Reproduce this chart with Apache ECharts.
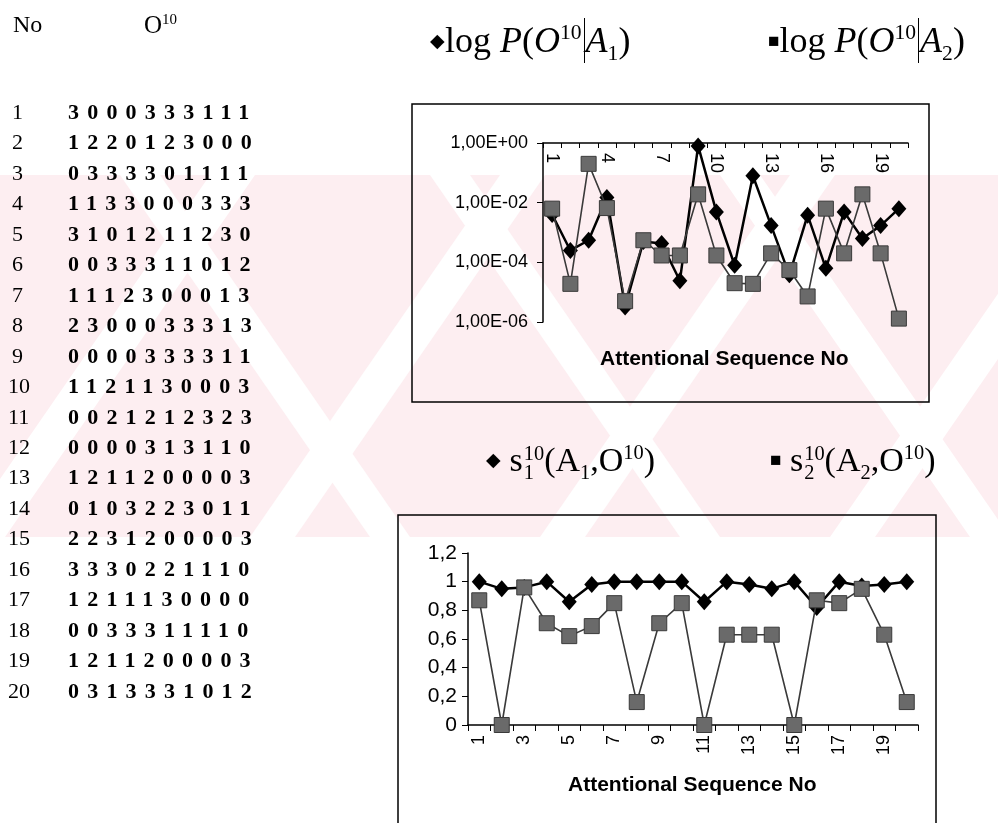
<!DOCTYPE html>
<html><head><meta charset="utf-8">
<script src="https://cdn.jsdelivr.net/npm/echarts@6/dist/echarts.min.js"></script>
<style>
html,body{margin:0;padding:0;background:#fff;width:998px;height:823px;overflow:hidden;}
#chart{position:absolute;left:0;top:0;width:998px;height:823px;}
.t{position:absolute;font-family:"Liberation Serif","Times New Roman",serif;color:#000;white-space:nowrap;line-height:1;}
.seq{font-weight:bold;letter-spacing:8.2px;}
sup,sub{font-size:0.6em;line-height:0;}
.bar{display:inline-block;border-left:1.6px solid #000;height:1.25em;vertical-align:-0.3em;margin:0 1px 0 2px;}
.stack{display:inline-block;vertical-align:middle;line-height:0.95;font-size:0.6em;text-align:left;margin-left:1px;}
</style></head><body>
<div id="chart"></div>
<div id="overlay"></div>
<script>
// ---- data ----
const categories = ['1','2','3','4','5','6','7','8','9','10','11','12','13','14','15','16','17','18','19','20'];
const logP_A1 = [4.0e-3, 2.5e-4, 5.5e-4, 1.5e-2, 3.2e-6, 5.0e-4, 4.3e-4, 2.4e-5, 0.8, 4.9e-3, 8.0e-5, 8.0e-2, 1.7e-3, 3.8e-5, 3.8e-3, 6.3e-5, 4.9e-3, 6.3e-4, 1.7e-3, 6.3e-3];
const logP_A2 = [6.3e-3, 1.9e-5, 0.2, 6.6e-3, 5.0e-6, 5.5e-4, 1.7e-4, 1.7e-4, 1.9e-2, 1.7e-4, 2.0e-5, 1.9e-5, 2.0e-4, 5.5e-5, 7.2e-6, 6.3e-3, 2.0e-4, 1.9e-2, 2.0e-4, 1.3e-6];
const s1_A1 = [1.0, 0.95, 0.96, 1.0, 0.86, 0.98, 1.0, 1.0, 1.0, 1.0, 0.86, 1.0, 0.98, 0.95, 1.0, 0.82, 1.0, 0.97, 0.98, 1.0];
const s2_A2 = [0.87, 0.0, 0.96, 0.71, 0.62, 0.69, 0.85, 0.16, 0.71, 0.85, 0.0, 0.63, 0.63, 0.63, 0.0, 0.87, 0.85, 0.95, 0.63, 0.16];
const rowNumbers = categories;
const sequences = ['3000333111','1220123000','0333301111','1133000333','3101211230','0033311012','1112300013','2300033313','0000333311','1121130003','0021212323','0000313110','1211200003','0103223011','2231200003','3330221110','1211130000','0033311110','1211200003','0313331012'];
const xTitle = 'Attentional Sequence No';

// ---- text overlay (table + legends) ----
const ov = document.getElementById('overlay');
let html = '';
html += '<div class="t" style="left:13px;top:12px;font-size:24px">No</div>';
html += '<div class="t" style="left:144px;top:12px;font-size:25px">O<sup>10</sup></div>';
const row0 = 112, rowStep = 30.45;
rowNumbers.forEach((n, i) => {
  const y = row0 + i * rowStep - 11;
  html += `<div class="t" style="left:${n.length > 1 ? 8 : 12}px;top:${y}px;font-size:22px">${n}</div>`;
  html += `<div class="t seq" style="left:68px;top:${y}px;font-size:22px">${sequences[i]}</div>`;
});
// legend 1
html += '<div class="t" style="left:430px;top:18px;font-size:36px"><span style="font-size:19px;vertical-align:5px">&#9670;</span>log <i>P</i>(<i>O</i><sup>10</sup><span class="bar"></span><i>A</i><sub>1</sub>)</div>';
html += '<div class="t" style="left:768px;top:18px;font-size:36px"><span style="font-size:19px;vertical-align:5px">&#9632;</span>log <i>P</i>(<i>O</i><sup>10</sup><span class="bar"></span><i>A</i><sub>2</sub>)</div>';
// legend 2
html += '<div class="t" style="left:486px;top:443px;font-size:34px"><span style="font-size:19px;vertical-align:5px">&#9670;</span> s<span class="stack">10<br>1</span>(A<sub>1</sub>,O<sup>10</sup>)</div>';
html += '<div class="t" style="left:770px;top:443px;font-size:34px"><span style="font-size:19px;vertical-align:5px">&#9632;</span> s<span class="stack">10<br>2</span>(A<sub>2</sub>,O<sup>10</sup>)</div>';
ov.innerHTML = html;

// ---- chart ----
const chart = echarts.init(document.getElementById('chart'), null, {renderer: 'canvas', width: 998, height: 823});
const fmtE = v => { const e = Math.round(Math.log10(v)); return '1,00E' + (e >= 0 ? '+' : '-') + String(Math.abs(e)).padStart(2, '0'); };
const fmtC = v => String(+v.toFixed(1)).replace('.', ',');
const AX = {fontFamily: '"Liberation Sans", Arial, sans-serif', color: '#000'};
const pink = '#fdeef1';
const wm = [];
wm.push({type: 'rect', z: -10, shape: {x: 0, y: 175, width: 998, height: 362}, style: {fill: pink}});
[-40, 250, 540, 830].forEach(x => wm.push({type: 'polygon', z: -9, shape: {points: [[x, 537], [x + 45, 537], [x + 295, 175], [x + 250, 175]]}, style: {fill: '#fff'}}));
[120, 430, 720].forEach(x => wm.push({type: 'polygon', z: -9, shape: {points: [[x, 175], [x + 40, 175], [x + 290, 537], [x + 250, 537]]}, style: {fill: '#fff'}}));

const symA = {symbol: 'diamond', symbolSize: [15, 17], showAllSymbol: true, lineStyle: {color: '#000', width: 2.5}, itemStyle: {color: '#000'}, z: 3};
const symB = {symbol: 'rect', symbolSize: 15, showAllSymbol: true, lineStyle: {color: '#3a3a3a', width: 1.6}, itemStyle: {color: '#6a6a6a', borderColor: '#3a3a3a', borderWidth: 1}, z: 4};

const option = {
  animation: false,
  backgroundColor: '#fff',
  graphic: wm.concat([
    {type: 'rect', z: 1, shape: {x: 412, y: 104, width: 517, height: 298}, style: {fill: 'none', stroke: '#000', lineWidth: 1.5}},
    {type: 'rect', z: 1, shape: {x: 398, y: 515, width: 538, height: 330}, style: {fill: 'none', stroke: '#000', lineWidth: 1.5}},
    {type: 'text', z: 3, left: 600, top: 349, style: {text: xTitle, font: 'bold 21px "Liberation Sans", Arial, sans-serif', fill: '#000'}},
    {type: 'text', z: 3, left: 568, top: 775, style: {text: xTitle, font: 'bold 21px "Liberation Sans", Arial, sans-serif', fill: '#000'}}
  ]),
  grid: [
    {left: 543, top: 143, width: 365, height: 179, containLabel: false},
    {left: 468, top: 553, width: 450, height: 172, containLabel: false}
  ],
  xAxis: [
    {gridIndex: 0, type: 'category', data: categories, position: 'top', boundaryGap: true,
     axisLine: {show: true, onZero: false, lineStyle: {color: '#000', width: 1.5}},
     axisTick: {show: true, inside: true, length: 5, interval: 0, lineStyle: {color: '#000'}},
     axisLabel: Object.assign({inside: true, rotate: 90, interval: 2, fontSize: 18, margin: 10}, AX),
     splitLine: {show: false}},
    {gridIndex: 1, type: 'category', data: categories, position: 'bottom', boundaryGap: true,
     axisLine: {show: true, onZero: false, lineStyle: {color: '#000', width: 1.5}},
     axisTick: {show: true, length: 6, interval: 0, lineStyle: {color: '#000'}},
     axisLabel: Object.assign({rotate: 90, interval: 1, fontSize: 18, margin: 10}, AX),
     splitLine: {show: false}}
  ],
  yAxis: [
    {gridIndex: 0, type: 'log', logBase: 10, min: 1e-6, max: 1, interval: 2,
     axisLine: {show: true, lineStyle: {color: '#000', width: 1.5}},
     axisTick: {show: true, length: 6, lineStyle: {color: '#000'}},
     axisLabel: Object.assign({formatter: fmtE, fontSize: 18, margin: 15}, AX),
     minorTick: {show: false}, splitLine: {show: false}},
    {gridIndex: 1, type: 'value', min: 0, max: 1.2, interval: 0.2,
     axisLine: {show: true, lineStyle: {color: '#000', width: 1.5}},
     axisTick: {show: true, length: 6, lineStyle: {color: '#000'}},
     axisLabel: Object.assign({formatter: fmtC, fontSize: 21, margin: 11}, AX),
     splitLine: {show: false}}
  ],
  series: [
    Object.assign({name: 'A1', type: 'line', xAxisIndex: 0, yAxisIndex: 0, data: logP_A1}, symA),
    Object.assign({name: 'A2', type: 'line', xAxisIndex: 0, yAxisIndex: 0, data: logP_A2}, symB),
    Object.assign({name: 's1', type: 'line', xAxisIndex: 1, yAxisIndex: 1, data: s1_A1}, symA),
    Object.assign({name: 's2', type: 'line', xAxisIndex: 1, yAxisIndex: 1, data: s2_A2}, symB)
  ]
};
chart.setOption(option);
</script>
</body></html>
